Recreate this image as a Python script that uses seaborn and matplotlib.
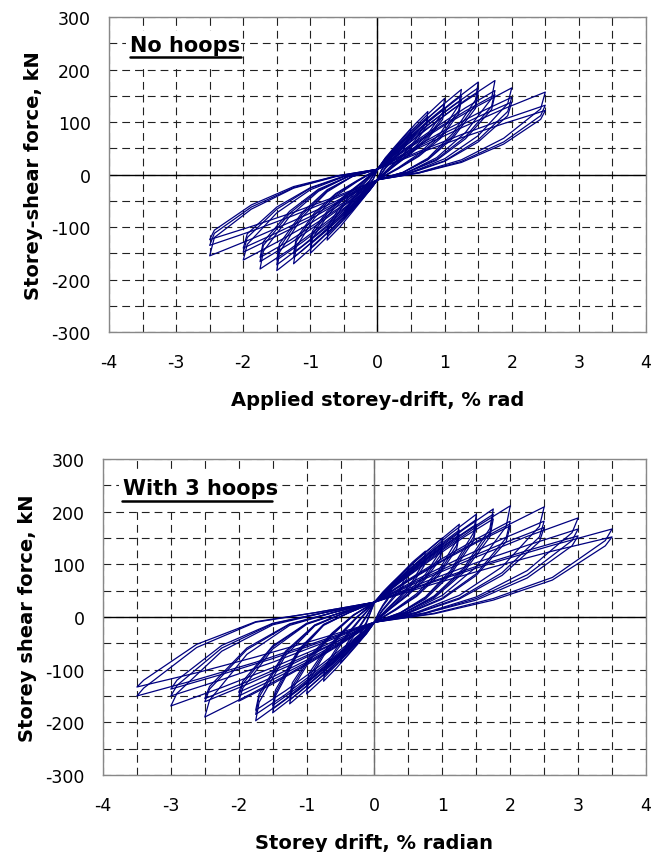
import matplotlib
matplotlib.use("Agg")
import matplotlib.pyplot as plt
from matplotlib.patches import Rectangle
import seaborn as sns

# drift path for one cycle at each amplitude (% rad)
drift_025 = [0, .06, .12, .19, .25, .24, .19, .12, .06, 0, -.06, -.12, -.19, -.25, -.24, -.19, -.12, -.06]
drift_050 = [0, .12, .25, .38, .5, .48, .38, .25, .12, 0, -.12, -.25, -.38, -.5, -.48, -.38, -.25, -.12]
drift_075 = [0, .19, .38, .56, .75, .73, .56, .38, .19, 0, -.19, -.38, -.56, -.75, -.73, -.56, -.38, -.19]
drift_100 = [0, .25, .5, .75, 1.0, .97, .75, .5, .25, 0, -.25, -.5, -.75, -1.0, -.97, -.75, -.5, -.25]
drift_125 = [0, .31, .62, .94, 1.25, 1.21, .94, .62, .31, 0, -.31, -.62, -.94, -1.25, -1.21, -.94, -.62, -.31]
drift_150 = [0, .38, .75, 1.12, 1.5, 1.46, 1.12, .75, .38, 0, -.38, -.75, -1.12, -1.5, -1.46, -1.12, -.75, -.38]
drift_175 = [0, .44, .88, 1.31, 1.75, 1.7, 1.31, .88, .44, 0, -.44, -.88, -1.31, -1.75, -1.7, -1.31, -.88, -.44]
drift_200 = [0, .5, 1.0, 1.5, 2.0, 1.94, 1.5, 1.0, .5, 0, -.5, -1.0, -1.5, -2.0, -1.94, -1.5, -1.0, -.5]
drift_250 = [0, .62, 1.25, 1.88, 2.5, 2.43, 1.88, 1.25, .62, 0, -.62, -1.25, -1.88, -2.5, -2.43, -1.88, -1.25, -.62]
drift_300 = [0, .75, 1.5, 2.25, 3.0, 2.91, 2.25, 1.5, .75, 0, -.75, -1.5, -2.25, -3.0, -2.91, -2.25, -1.5, -.75]
drift_350 = [0, .88, 1.75, 2.62, 3.5, 3.4, 2.62, 1.75, .88, 0, -.88, -1.75, -2.62, -3.5, -3.4, -2.62, -1.75, -.88]

# storey shear (kN) along each cycle - no hoops
top_f_025 = [[10, 21, 32, 41, 50, 44, 31, 20, 9, -10, -21, -31, -40, -48, -42, -29, -19, -8],
             [10, 20, 29, 37, 45, 40, 28, 18, 8, -10, -20, -28, -37, -44, -38, -27, -17, -8]]
top_f_050 = [[10, 32, 52, 71, 88, 76, 52, 32, 14, -10, -31, -50, -69, -85, -73, -50, -31, -13],
             [10, 30, 48, 65, 80, 69, 47, 29, 12, -10, -29, -47, -63, -78, -67, -46, -28, -12]]
top_f_075 = [[10, 41, 69, 96, 120, 100, 65, 38, 15, -10, -42, -72, -100, -125, -104, -68, -40, -16],
             [10, 38, 64, 88, 110, 92, 60, 35, 14, -10, -39, -66, -92, -115, -96, -62, -36, -14]]
top_f_100 = [[10, 48, 83, 115, 145, 118, 77, 45, 18, -10, -49, -86, -119, -150, -122, -79, -46, -18],
             [10, 45, 78, 108, 135, 110, 72, 42, 17, -10, -46, -81, -111, -140, -114, -74, -43, -17],
             [10, 43, 74, 102, 128, 105, 68, 40, 16, -10, -44, -77, -106, -133, -108, -70, -41, -16]]
top_f_125 = [[10, 53, 92, 129, 162, 132, 79, 40, 13, -10, -55, -96, -135, -170, -138, -83, -41, -14],
             [10, 49, 86, 119, 150, 122, 73, 37, 12, -10, -51, -90, -125, -158, -128, -77, -38, -13],
             [10, 47, 82, 113, 142, 116, 69, 35, 11, -10, -49, -86, -119, -150, -122, -73, -36, -12]]
top_f_150 = [[10, 56, 100, 139, 176, 142, 78, 31, 4, -10, -58, -103, -145, -183, -148, -81, -33, -4],
             [10, 53, 94, 131, 165, 133, 73, 29, 4, -10, -55, -97, -136, -172, -139, -76, -31, -4],
             [10, 51, 89, 124, 156, 126, 69, 28, 4, -10, -53, -93, -129, -163, -132, -72, -29, -4]]
top_f_175 = [[10, 57, 101, 142, 179, 145, 80, 32, 4, -10, -58, -102, -143, -180, -146, -80, -32, -4],
             [10, 52, 91, 127, 160, 130, 72, 29, 4, -10, -54, -94, -132, -166, -135, -74, -30, -4],
             [10, 50, 87, 121, 152, 124, 68, 27, 4, -10, -52, -90, -126, -158, -128, -70, -28, -4]]
top_f_200 = [[10, 53, 94, 131, 165, 135, 74, 30, 4, -10, -53, -93, -129, -163, -133, -73, -29, -4],
             [10, 48, 84, 117, 147, 120, 66, 26, 4, -10, -48, -85, -117, -148, -120, -66, -26, -4],
             [10, 46, 79, 110, 138, 112, 62, 25, 3, -10, -46, -80, -111, -140, -113, -62, -25, -3]]
top_f_250 = [[10, 51, 89, 125, 157, 125, 69, 28, 4, -10, -51, -88, -123, -155, -120, -66, -26, -4],
             [10, 44, 76, 105, 132, 112, 62, 25, 3, -10, -45, -78, -108, -135, -112, -62, -25, -3],
             [10, 41, 70, 97, 122, 105, 58, 23, 3, -10, -42, -72, -99, -124, -106, -58, -23, -3]]

# storey shear (kN) along each cycle - with 3 hoops
bot_f_025 = [[28, 36, 43, 49, 55, 50, 35, 22, 8, -10, -21, -32, -41, -50, -44, -28, -12, 8],
             [28, 34, 40, 45, 50, 46, 32, 20, 7, -10, -20, -29, -37, -45, -40, -25, -10, 9]]
bot_f_050 = [[28, 47, 64, 80, 95, 82, 56, 34, 14, -10, -32, -52, -71, -88, -76, -50, -26, 0],
             [28, 44, 59, 72, 85, 74, 50, 31, 12, -10, -30, -48, -65, -80, -69, -45, -23, 2]]
bot_f_075 = [[28, 55, 80, 104, 125, 105, 68, 40, 16, -10, -41, -70, -97, -122, -102, -64, -32, -2],
             [28, 52, 75, 96, 115, 97, 63, 37, 15, -10, -39, -65, -90, -112, -94, -59, -29, 0]]
bot_f_100 = [[28, 62, 94, 123, 150, 125, 81, 48, 19, -10, -48, -83, -116, -146, -122, -74, -35, 0],
             [28, 59, 88, 115, 140, 117, 76, 44, 18, -10, -46, -79, -110, -138, -115, -70, -33, 1],
             [28, 56, 83, 108, 132, 110, 72, 42, 17, -10, -44, -75, -104, -130, -108, -66, -31, 1]]
bot_f_125 = [[28, 69, 108, 143, 176, 145, 87, 44, 15, -10, -53, -94, -131, -165, -137, -80, -34, 3],
             [28, 66, 102, 135, 165, 136, 82, 41, 14, -10, -51, -90, -125, -158, -131, -76, -32, 3],
             [28, 63, 97, 128, 156, 129, 78, 39, 13, -10, -49, -86, -119, -150, -125, -72, -30, 4]]
bot_f_150 = [[28, 75, 118, 158, 195, 160, 88, 38, 8, -10, -58, -103, -144, -182, -150, -68, -16, 8],
             [28, 72, 113, 150, 185, 152, 84, 36, 8, -10, -56, -99, -139, -175, -145, -65, -15, 8],
             [28, 69, 108, 143, 176, 145, 80, 34, 7, -10, -54, -95, -133, -168, -139, -62, -14, 8]]
bot_f_175 = [[28, 78, 124, 166, 205, 168, 92, 40, 8, -10, -62, -111, -156, -197, -162, -73, -17, 8],
             [28, 75, 118, 158, 195, 160, 88, 38, 8, -10, -59, -105, -147, -185, -152, -68, -16, 8],
             [28, 72, 113, 151, 186, 152, 84, 36, 8, -10, -56, -100, -140, -177, -146, -65, -15, 8]]
bot_f_200 = [[28, 79, 127, 171, 211, 172, 95, 41, 9, -10, -52, -91, -127, -160, -135, -61, -14, 8],
             [28, 71, 111, 148, 182, 150, 82, 36, 8, -10, -49, -86, -119, -150, -127, -57, -13, 8],
             [28, 68, 106, 141, 173, 143, 79, 34, 7, -10, -47, -82, -114, -143, -122, -55, -12, 8]]
bot_f_250 = [[28, 79, 126, 169, 209, 172, 95, 41, 9, -10, -60, -107, -150, -190, -158, -71, -16, 8],
             [28, 71, 111, 148, 182, 152, 84, 36, 8, -10, -52, -92, -128, -161, -137, -62, -14, 8],
             [28, 68, 105, 139, 170, 143, 79, 34, 7, -10, -51, -88, -123, -155, -132, -59, -13, 8]]
bot_f_300 = [[28, 73, 114, 153, 188, 160, 88, 38, 8, -10, -55, -96, -134, -169, -145, -65, -15, 8],
             [28, 67, 103, 136, 167, 145, 80, 35, 7, -10, -49, -86, -119, -150, -130, -59, -13, 8],
             [28, 63, 96, 126, 154, 135, 74, 32, 7, -10, -46, -79, -109, -137, -120, -54, -12, 8]]
bot_f_350 = [[28, 67, 103, 136, 167, 145, 75, 35, 7, -10, -49, -86, -119, -150, -135, -58, -10, 8],
             [28, 63, 95, 125, 152, 135, 70, 32, 6, -10, -44, -76, -106, -133, -120, -52, -9, 8]]

top_runs = [(drift_025, top_f_025), (drift_050, top_f_050), (drift_075, top_f_075),
            (drift_100, top_f_100), (drift_125, top_f_125), (drift_150, top_f_150),
            (drift_175, top_f_175), (drift_200, top_f_200), (drift_250, top_f_250)]
bot_runs = [(drift_025, bot_f_025), (drift_050, bot_f_050), (drift_075, bot_f_075),
            (drift_100, bot_f_100), (drift_125, bot_f_125), (drift_150, bot_f_150),
            (drift_175, bot_f_175), (drift_200, bot_f_200), (drift_250, bot_f_250),
            (drift_300, bot_f_300), (drift_350, bot_f_350)]

x_ticks = [-4, -3, -2, -1, 0, 1, 2, 3, 4]
x_minor = [-3.5, -2.5, -1.5, -0.5, 0.5, 1.5, 2.5, 3.5]
y_ticks = [-300, -200, -100, 0, 100, 200, 300]
y_minor = [-250, -150, -50, 50, 150, 250]

sns.set_style("white")
plt.rcParams['font.family'] = ['DejaVu Sans']
plt.rcParams['text.color'] = 'black'
plt.rcParams['axes.labelcolor'] = 'black'
plt.rcParams['xtick.color'] = 'black'
plt.rcParams['ytick.color'] = 'black'

fig = plt.figure(figsize=(6.53, 8.53), dpi=100)
ax1 = fig.add_axes([0.1669, 0.6096, 0.8224, 0.3693])
ax2 = fig.add_axes([0.1577, 0.0903, 0.8316, 0.3705])

line_col = '#00007f'


def setup(ax, xlabel, ylabel, vcol):
    ax.set_xlim(-4, 4)
    ax.set_ylim(-300, 300)
    ax.set_xticks(x_ticks)
    ax.set_xticks(x_minor, minor=True)
    ax.set_yticks(y_ticks)
    ax.set_yticks(y_minor, minor=True)
    ax.set_xticklabels([str(v) for v in x_ticks])
    ax.set_yticklabels([str(v) for v in y_ticks])
    ax.grid(which='both', color='#222222', lw=0.8, linestyle=(0, (7, 4.5)))
    ax.set_axisbelow(True)
    ax.tick_params(which='both', length=0)
    ax.tick_params(axis='x', labelsize=12.5, pad=15)
    ax.tick_params(axis='y', labelsize=12.5, pad=13)
    for sp in ax.spines.values():
        sp.set_color('#888888')
        sp.set_linewidth(1.0)
    ax.axhline(0, color='black', lw=1.0, zorder=1.5)
    ax.axvline(0, color=vcol, lw=1.0, zorder=1.5)
    ax.set_xlabel(xlabel, fontsize=14, fontweight='bold', labelpad=14)
    ax.set_ylabel(ylabel, fontsize=14, fontweight='bold', labelpad=6)


def draw(ax, runs):
    for drift, cycles in runs:
        for f in cycles:
            sns.lineplot(x=drift + [drift[0]], y=f + [f[0]], sort=False, estimator=None,
                         color=line_col, lw=0.9, ax=ax, legend=False)


def tag(ax, text, box, x0, yc, ul):
    ax.add_patch(Rectangle((box[0], box[1]), box[2], box[3], transform=ax.transAxes,
                           facecolor='white', edgecolor='none', zorder=3))
    ax.text(x0, yc, text, transform=ax.transAxes, ha='left', va='center',
            fontsize=15, fontweight='bold', zorder=4)
    ax.plot(ul[0], ul[1], transform=ax.transAxes, color='black', lw=1.8, zorder=4)


draw(ax1, top_runs)
setup(ax1, 'Applied storey-drift, % rad', 'Storey-shear force, kN', 'black')
tag(ax1, 'No hoops', (0.031, 0.848, 0.214, 0.108), 0.039, 0.911,
    ([0.039, 0.245], [0.873, 0.873]))

draw(ax2, bot_runs)
setup(ax2, 'Storey drift, % radian', 'Storey shear force, kN', '#707070')
tag(ax2, 'With 3 hoops', (0.030, 0.840, 0.290, 0.12), 0.037, 0.908,
    ([0.035, 0.312], [0.867, 0.867]))

fig.savefig('out.png', dpi=100)
